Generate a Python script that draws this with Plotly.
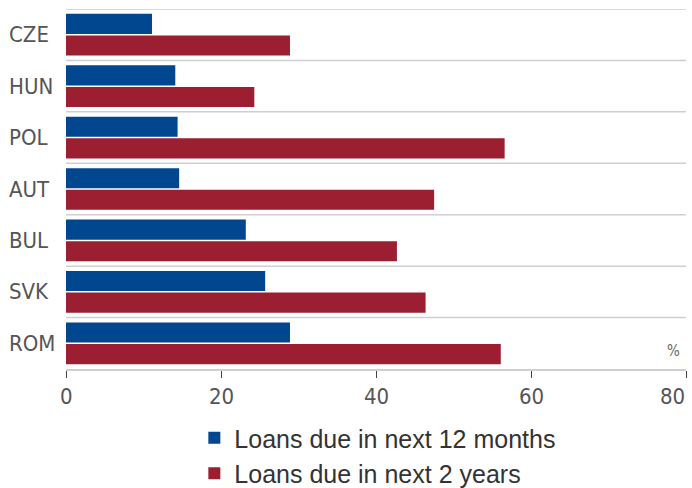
import plotly.graph_objects as go

# Share of loans falling due, by country (%)
countries = ["CZE", "HUN", "POL", "AUT", "BUL", "SVK", "ROM"]
due_12_months = [11.1, 14.1, 14.4, 14.6, 23.2, 25.7, 28.9]
due_2_years = [28.9, 24.3, 56.6, 47.5, 42.7, 46.4, 56.1]
x_ticks = [0, 20, 40, 60, 80]

BLUE = "#00478F"
RED = "#9B1F31"
NARROW = "DejaVu Sans Condensed, Liberation Sans Narrow, Arial Narrow, sans-serif"
SANS = "Liberation Sans, Arial, sans-serif"

fig = go.Figure()
fig.add_trace(go.Bar(
    y=countries, x=due_12_months, orientation="h",
    name="Loans due in next 12 months", legendgroup="a",
    marker=dict(color=BLUE, line=dict(width=0)),
))
fig.add_trace(go.Bar(
    y=countries, x=due_2_years, orientation="h",
    name="Loans due in next 2 years", legendgroup="b",
    marker=dict(color=RED, line=dict(width=0)),
))

# Separator lines between country groups
n = len(countries)
for i in range(n):
    fig.add_shape(type="line", xref="x", yref="y",
                  x0=0, x1=80, y0=i - 0.5, y1=i - 0.5,
                  line=dict(color="#cfcfcf", width=1.5), layer="below")

# Country labels, left-aligned at the chart edge
for c in countries:
    fig.add_annotation(text=c, xref="paper", yref="y", x=-59 / 620, y=c,
                       xanchor="left", yanchor="middle", showarrow=False,
                       font=dict(family=NARROW, size=22, color="#555555"))

# Value-axis labels; the last one is right-aligned so it stays inside the frame
for k, v in enumerate(x_ticks):
    last = k == len(x_ticks) - 1
    fig.add_annotation(text=str(v), xref="x", yref="paper", x=v, y=-0.075,
                       xanchor="right" if last else "center", yanchor="middle",
                       xshift=1 if last else 0, showarrow=False,
                       font=dict(family=NARROW, size=22, color="#555555"))

fig.add_annotation(text="%", xref="paper", yref="paper", x=0.98, y=0.05,
                   xanchor="center", yanchor="middle", showarrow=False,
                   font=dict(family=NARROW, size=15, color="#666666"))

fig.update_layout(
    width=692, height=488,
    margin=dict(l=66, r=6, t=9, b=119, autoexpand=False),
    paper_bgcolor="white", plot_bgcolor="white",
    barmode="group", bargap=0.16, bargroupgap=0.07,
    showlegend=True,
    legend=dict(orientation="v", x=0.207, y=-0.128, xanchor="left", yanchor="top",
                font=dict(family=SANS, size=25, color="#333333"),
                tracegroupgap=0, bgcolor="rgba(0,0,0,0)"),
    xaxis=dict(range=[0, 80], tickvals=x_ticks, ticks="outside", ticklen=7,
               tickcolor="#444444", tickwidth=1, showline=True, linecolor="#cfcfcf",
               linewidth=1.5, showgrid=False, zeroline=False, showticklabels=False),
    yaxis=dict(type="category", categoryarray=countries, range=[n - 0.5, -0.5],
               showticklabels=False, showgrid=False, zeroline=False, ticks=""),
)

fig.write_html("out.html")
